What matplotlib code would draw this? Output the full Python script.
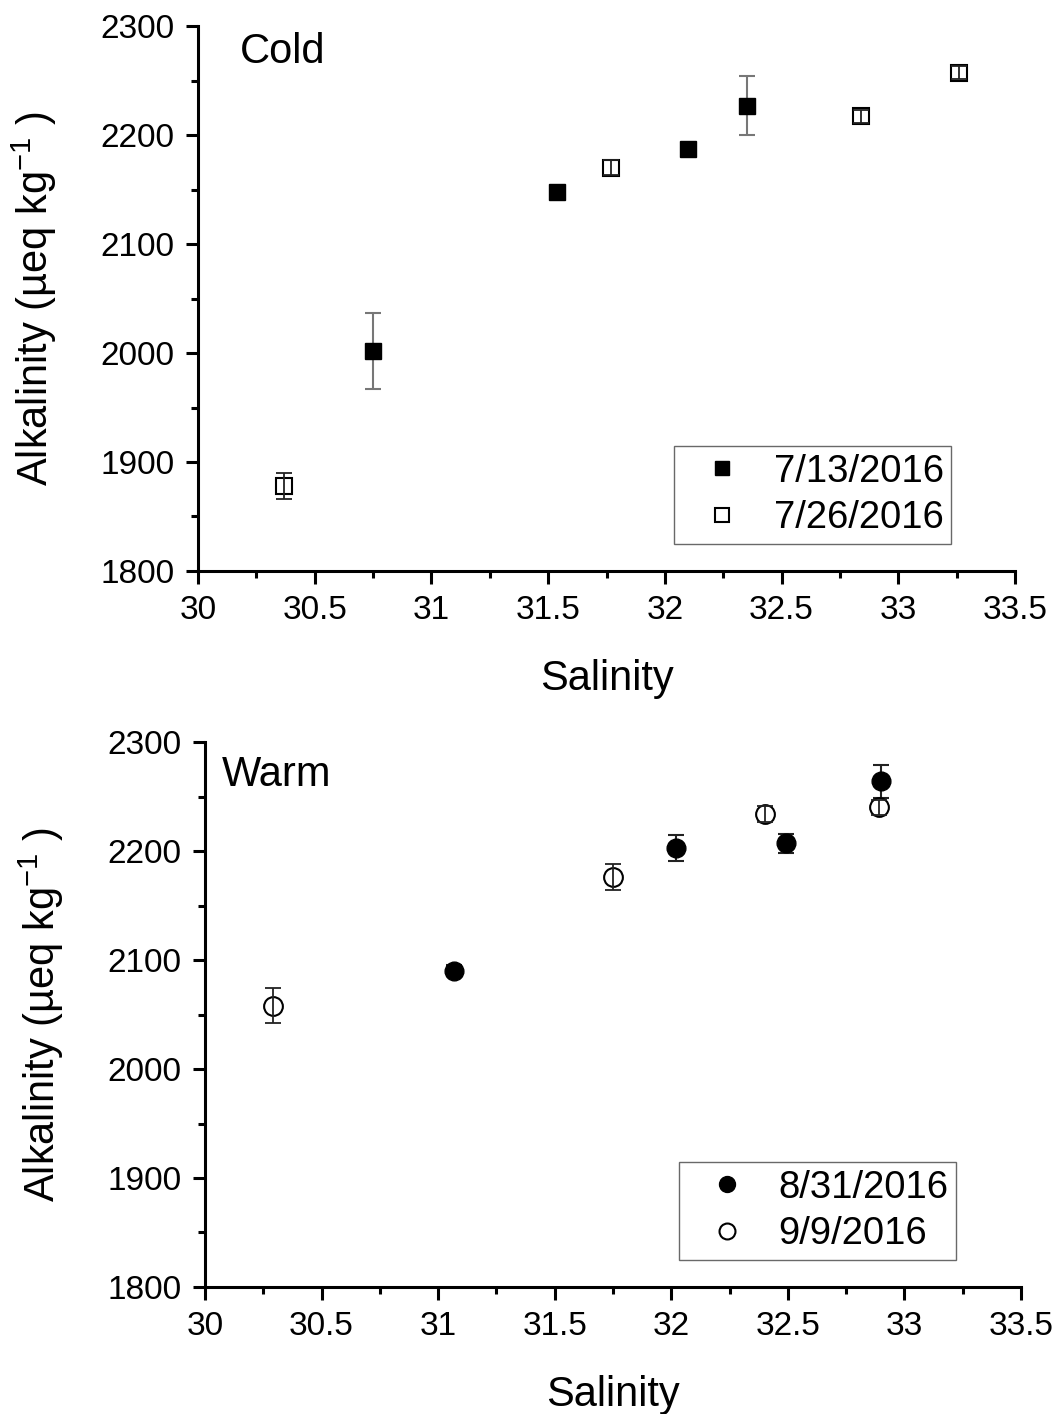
import numpy as np
import matplotlib
matplotlib.use("Agg")
import matplotlib.pyplot as plt
from matplotlib.ticker import MultipleLocator, FixedLocator

plt.rcParams['font.family'] = ['Liberation Sans', 'DejaVu Sans']
plt.rcParams['mathtext.default'] = 'regular'

# ---- Cold panel data ----
cold_a_label = "7/13/2016"
cold_a_sal = [30.75, 31.54, 32.10, 32.35]
cold_a_alk = [2002, 2148, 2187, 2227]
cold_a_err = [35, 0, 0, 27]

cold_b_label = "7/26/2016"
cold_b_sal = [30.37, 31.77, 32.84, 33.26]
cold_b_alk = [1878, 2170, 2217, 2257]
cold_b_err = [12, 7, 6, 6]

# ---- Warm panel data ----
warm_a_label = "8/31/2016"
warm_a_sal = [31.07, 32.02, 32.49, 32.90]
warm_a_alk = [2090, 2203, 2207, 2264]
warm_a_err = [5, 12, 9, 15]

warm_b_label = "9/9/2016"
warm_b_sal = [30.29, 31.75, 32.40, 32.89]
warm_b_alk = [2058, 2176, 2234, 2240]
warm_b_err = [16, 12, 7, 7]

x_ticks = [30, 30.5, 31, 31.5, 32, 32.5, 33, 33.5]
x_ticklabels = ["30", "30.5", "31", "31.5", "32", "32.5", "33", "33.5"]
y_ticks = [1800, 1900, 2000, 2100, 2200, 2300]

W, H = 1057, 1414
fig = plt.figure(figsize=(W / 100, H / 100), dpi=100)

ax_top = fig.add_axes([198 / W, 1 - 571 / H, 817 / W, 545 / H])
ax_bot = fig.add_axes([205 / W, 1 - 1287 / H, 816 / W, 545 / H])


def style_axes(ax):
    ax.set_xlim(30, 33.5)
    ax.set_ylim(1800, 2300)
    ax.xaxis.set_major_locator(FixedLocator(x_ticks))
    ax.set_xticklabels(x_ticklabels)
    ax.yaxis.set_major_locator(FixedLocator(y_ticks))
    ax.xaxis.set_minor_locator(MultipleLocator(0.25))
    ax.yaxis.set_minor_locator(MultipleLocator(50))
    for s in ['top', 'right']:
        ax.spines[s].set_visible(False)
    for s in ['left', 'bottom']:
        ax.spines[s].set_linewidth(2.2)
    ax.tick_params(which='major', length=9, width=2.2, direction='out',
                   labelsize=24, pad=8)
    ax.tick_params(which='minor', length=5, width=2.2, direction='out')
    ax.set_xlabel("Salinity", fontsize=30, labelpad=24)
    ax.set_ylabel("Alkalinity (µeq kg$^{-1}$ )", fontsize=30, labelpad=30)


def draw_series(ax, sal, alk, err, marker, ms, filled, label, ecolor):
    sal = np.asarray(sal)
    alk = np.asarray(alk)
    err = np.asarray(err)
    has = err > 0
    if filled:
        ax.errorbar(sal[has], alk[has], yerr=err[has], fmt='none', ecolor=ecolor,
                    elinewidth=1.5, capsize=5.8, capthick=1.5, zorder=2)
        ax.plot(sal, alk, linestyle='none', marker=marker, ms=ms,
                mfc='black', mec='black', zorder=3, label=label)
    else:
        ax.plot(sal, alk, linestyle='none', marker=marker, ms=ms,
                mfc='white', mec='black', mew=1.5, zorder=3, label=label)
        ax.errorbar(sal[has], alk[has], yerr=err[has], fmt='none', ecolor=ecolor,
                    elinewidth=1.3, capsize=5.8, capthick=1.3, zorder=4)


style_axes(ax_top)
draw_series(ax_top, cold_a_sal, cold_a_alk, cold_a_err, 's', 12, True, cold_a_label, '#777777')
draw_series(ax_top, cold_b_sal, cold_b_alk, cold_b_err, 's', 12, False, cold_b_label, '#222222')
ax_top.text(0.051, 0.952, "Cold", transform=ax_top.transAxes, fontsize=30,
            va='center', ha='left')

style_axes(ax_bot)
draw_series(ax_bot, warm_a_sal, warm_a_alk, warm_a_err, 'o', 13.5, True, warm_a_label, '#222222')
draw_series(ax_bot, warm_b_sal, warm_b_alk, warm_b_err, 'o', 13.5, False, warm_b_label, '#222222')
ax_bot.text(0.021, 0.939, "Warm", transform=ax_bot.transAxes, fontsize=30,
            va='center', ha='left')

for ax, anchor in [(ax_top, (0.922, 0.0495)), (ax_bot, (0.920, 0.0495))]:
    leg = ax.legend(loc='lower right', bbox_to_anchor=anchor, fontsize=27.5,
                    frameon=True, fancybox=False, borderaxespad=0,
                    handletextpad=0.3, labelspacing=0.28, borderpad=0.2,
                    handlelength=2.1, markerscale=0.85)
    leg.get_frame().set_edgecolor('#444444')
    leg.get_frame().set_linewidth(1.0)

fig.savefig("out.png", dpi=100)
